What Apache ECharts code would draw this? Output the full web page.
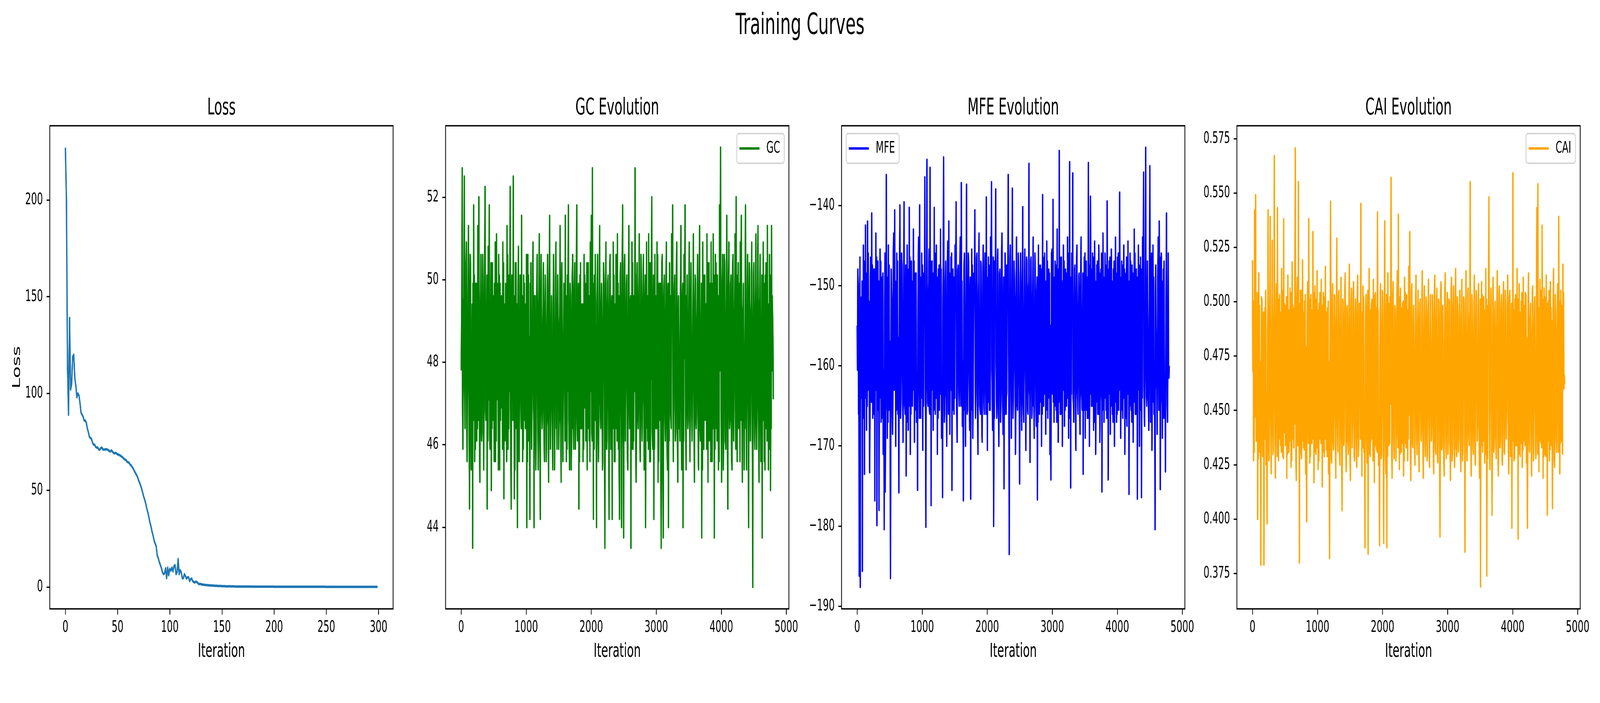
<!DOCTYPE html>
<html>
<head>
<meta charset="utf-8">
<script src="https://cdn.jsdelivr.net/npm/echarts@6/dist/echarts.min.js"></script>
<style>
html,body{margin:0;padding:0;background:#ffffff;overflow:hidden;}
#chart{width:7200px;height:1800px;transform-origin:0 0;}
</style>
</head>
<body>
<div id="chart"></div>
<script>
// ---------------- data ----------------
const suptitle = 'Training Curves';
const panelTitles = ['Loss', 'GC Evolution', 'MFE Evolution', 'CAI Evolution'];
const seriesNames = ['Loss', 'GC', 'MFE', 'CAI'];
const xLabel = 'Iteration';
const lossYLabel = 'Loss';

// loss per iteration (0..299)
const lossValues = [
  227, 200, 115, 89, 139, 102, 105, 119, 120, 108,
  104, 98, 100, 99, 95, 90, 89, 88, 86, 86,
  85, 82, 80, 77.6, 77, 76.5, 74.5, 73.5, 73.5, 72.4,
  72, 72, 71, 71, 71.8, 72, 71, 71, 71, 71.2,
  71, 70.8, 70.2, 70, 70.6, 70, 69.3, 69, 69.3, 69,
  68.5, 68.3, 68.1, 67.7, 67.3, 66.9, 66.3, 65.8, 65.6, 64.8,
  64.4, 64.2, 63.2, 62.8, 62, 61.1, 60, 59, 58, 57,
  55.3, 54, 52.5, 50.8, 48.8, 46.7, 45, 43, 40.5, 38.5,
  36, 33.3, 31.3, 28.6, 26.5, 24, 22.4, 21, 16.3, 14.8,
  12.8, 11.3, 9.7, 7.6, 6.6, 7, 9.7, 4.5, 10, 6,
  9.3, 8.4, 10, 8, 10.7, 11.3, 6.6, 7.6, 14.4, 6.6,
  8.6, 7.6, 4.5, 4.5, 6.6, 5.6, 4.3, 5, 5, 3,
  4, 4.3, 3, 2.5, 2.3, 2.7, 2.5, 1.9, 1.4, 1.6,
  1.4, 1.2, 1.2, 1.1, 1.0, 1.0, 0.9, 0.9, 0.8, 0.8,
  0.7, 0.7, 0.7, 0.6, 0.6, 0.6, 0.5, 0.5, 0.5, 0.5,
  0.4, 0.4, 0.4, 0.4, 0.3, 0.3, 0.3, 0.4, 0.3, 0.3,
  0.3, 0.3, 0.3, 0.2, 0.2, 0.2, 0.2, 0.2, 0.2, 0.2,
  0.2, 0.2, 0.2, 0.2, 0.2, 0.2, 0.2, 0.2, 0.2, 0.2,
  0.15, 0.15, 0.15, 0.15, 0.15, 0.15, 0.15, 0.15, 0.15, 0.15,
  0.15, 0.15, 0.15, 0.15, 0.15, 0.15, 0.15, 0.15, 0.15, 0.15,
  0.1, 0.1, 0.1, 0.1, 0.1, 0.1, 0.1, 0.1, 0.1, 0.1,
  0.1, 0.1, 0.1, 0.1, 0.1, 0.1, 0.1, 0.1, 0.1, 0.1,
  0.1, 0.1, 0.1, 0.1, 0.1, 0.1, 0.1, 0.1, 0.1, 0.1,
  0.1, 0.1, 0.1, 0.1, 0.1, 0.1, 0.1, 0.1, 0.1, 0.1,
  0.1, 0.1, 0.1, 0.1, 0.1, 0.1, 0.1, 0.1, 0.1, 0.1,
  0.05, 0.05, 0.05, 0.05, 0.05, 0.05, 0.05, 0.05, 0.05, 0.05,
  0.05, 0.05, 0.05, 0.05, 0.05, 0.05, 0.05, 0.05, 0.05, 0.05,
  0.05, 0.05, 0.05, 0.05, 0.05, 0.05, 0.05, 0.05, 0.05, 0.05,
  0.05, 0.05, 0.05, 0.05, 0.05, 0.05, 0.05, 0.05, 0.05, 0.05,
  0.05, 0.05, 0.05, 0.05, 0.05, 0.05, 0.05, 0.05, 0.05, 0.05
];

// GC content: spike readings, mid readings and band-edge readings (interleaved in time)
const gcPeaks = [
  47.8, 52.7, 45.9, 52.5, 46.4, 50.9, 47.1, 51.3, 44.45, 50.4, 46.6, 43.5, 51.8, 45.6, 49.9, 46.1, 51.3, 52.0, 45.1, 50.6,
  46.3, 49.6, 45.4, 52.25, 47.3, 44.45, 50.8, 51.8, 45.9, 44.9, 50.4, 46.6, 49.9, 45.6, 51.1, 47.1, 50.6, 45.4, 49.4, 46.9,
  50.9, 44.7, 49.1, 46.1, 51.3, 45.9, 50.1, 52.25, 44.45, 49.6, 52.5, 44.7, 50.4, 46.4, 44.0, 50.8, 46.9, 49.9, 51.55, 45.6,
  50.1, 46.6, 49.4, 44.0, 50.6, 46.1, 44.2, 50.4, 47.3, 50.9, 44.0, 49.6, 46.4, 50.6, 45.4, 51.1, 44.2, 49.9, 46.9, 50.4,
  45.6, 49.1, 46.1, 50.6, 45.1, 51.55, 46.6, 49.6, 45.4, 50.1, 47.1, 50.9, 45.9, 49.4, 46.4, 51.3, 45.1, 50.4, 46.9, 49.9,
  51.55, 45.6, 50.1, 51.8, 45.4, 49.6, 46.1, 50.6, 45.9, 50.4, 46.6, 51.8, 47.1, 44.45, 50.1, 46.4, 49.4, 45.6, 50.6, 46.9,
  49.9, 45.4, 50.4, 46.1, 50.9, 51.55, 52.7, 44.2, 50.1, 46.6, 44.0, 50.6, 45.9, 51.3, 46.4, 49.6, 45.6, 50.4, 43.5, 50.9,
  46.1, 50.1, 44.2, 50.6, 46.9, 44.2, 50.9, 45.6, 49.4, 46.4, 51.1, 45.9, 44.2, 50.4, 44.0, 51.8, 43.75, 50.6, 46.1, 50.1,
  45.4, 51.3, 46.6, 43.5, 50.9, 45.9, 49.6, 52.7, 45.1, 50.4, 46.4, 51.1, 45.6, 50.1, 46.9, 50.6, 45.4, 44.0, 50.9, 46.1,
  51.1, 45.6, 50.4, 52.0, 45.9, 44.2, 50.6, 46.4, 50.9, 45.1, 49.9, 46.6, 43.5, 50.6, 43.75, 50.1, 46.1, 50.9, 45.4, 44.0,
  50.4, 46.9, 51.1, 51.8, 45.6, 50.1, 46.4, 50.9, 45.1, 49.6, 46.1, 51.3, 45.9, 44.0, 50.6, 51.8, 45.4, 50.1, 46.6, 50.9,
  45.6, 50.4, 46.1, 51.1, 45.1, 49.9, 46.9, 50.6, 45.4, 51.3, 46.4, 43.75, 50.9, 45.9, 50.1, 46.6, 51.1, 45.1, 50.4, 46.1,
  50.9, 45.6, 51.1, 43.75, 50.6, 46.4, 50.1, 45.4, 51.8, 53.2, 45.1, 50.6, 46.1, 50.4, 45.9, 51.55, 44.45, 50.9, 46.6, 50.1,
  45.4, 50.6, 46.1, 51.1, 52.0, 45.6, 50.4, 46.4, 50.9, 51.55, 45.1, 49.9, 46.9, 51.8, 45.4, 50.6, 44.0, 50.1, 46.1, 50.9,
  42.55, 50.4, 45.9, 51.1, 46.6, 51.3, 45.1, 50.6, 46.1, 43.75, 50.9, 45.6, 50.1, 46.4, 51.3, 45.4, 50.6, 44.9, 51.3, 49.6
];
const gcBetween = [
  48.6, 46.9, 49.4, 47.3, 49.1, 46.6, 48.9, 47.6, 49.6, 46.4, 48.1, 49.9, 46.9, 48.4, 47.1, 49.4, 46.6, 48.9, 47.8, 46.4,
  49.1, 47.3, 49.9, 46.9, 48.6, 49.6, 47.1, 46.4, 48.9, 49.4, 47.6, 48.1, 46.6, 49.1, 47.3, 48.6, 46.9, 49.9, 47.1, 48.4,
  46.6, 49.4, 47.8, 48.9, 46.4, 49.1, 47.3, 46.9, 49.6, 48.1, 46.6, 48.6, 47.1, 49.4, 48.9, 46.9, 48.4, 47.3, 46.4, 49.1,
  47.6, 48.9, 46.6, 49.4, 47.1, 48.6, 49.9, 46.9, 48.1, 47.3, 49.6, 46.4, 48.9, 47.8, 49.1, 46.6, 49.4, 47.1, 48.6, 46.9,
  49.1, 47.3, 48.9, 46.6, 49.6, 47.1, 48.4, 46.9, 49.4, 47.6, 48.1, 46.4, 49.1, 47.3, 48.9, 46.6, 49.9, 47.1, 48.6, 47.8,
  46.9, 49.4, 47.3, 46.6, 49.1, 47.8, 48.9, 46.4, 49.6, 47.1, 48.6, 46.9, 49.4, 48.1, 47.3, 49.1, 46.6, 48.9, 47.6, 49.4,
  47.1, 48.6, 46.9, 49.4, 47.3, 46.4, 48.1, 49.6, 47.1, 48.9, 49.4, 46.6, 48.4, 47.3, 49.1, 46.9, 48.6, 49.9, 47.8, 46.6,
  49.1, 47.3, 48.9, 46.9, 49.4, 48.6, 46.6, 49.1, 47.1, 48.4, 46.9, 49.6, 48.1, 47.3, 49.4, 46.4, 48.9, 47.6, 49.1, 46.9,
  48.6, 47.1, 49.4, 48.1, 46.6, 49.1, 47.3, 48.9, 46.4, 49.6, 47.1, 48.4, 46.9, 49.4, 47.3, 48.6, 49.1, 46.6, 47.8, 49.4,
  46.9, 49.1, 47.6, 46.4, 49.4, 48.9, 47.1, 48.6, 46.6, 49.1, 47.3, 49.9, 46.9, 48.4, 49.4, 47.1, 48.9, 46.6, 49.6, 47.3,
  48.1, 46.6, 48.9, 47.3, 49.4, 46.9, 48.6, 47.1, 49.1, 46.4, 48.9, 47.6, 49.4, 46.6, 48.1, 47.3, 49.6, 46.9, 48.6, 47.1,
  49.4, 46.9, 48.6, 47.3, 49.1, 46.6, 48.9, 47.1, 49.6, 46.4, 48.4, 49.1, 47.3, 48.9, 46.9, 49.4, 47.6, 48.6, 46.6, 49.1,
  47.3, 48.9, 46.6, 49.4, 47.1, 48.6, 46.9, 49.1, 47.8, 48.4, 46.6, 49.6, 47.3, 48.9, 46.9, 48.1, 49.4, 47.1, 48.6, 46.6,
  49.1, 47.3, 48.9, 46.9, 48.4, 49.4, 47.1, 48.6, 46.6, 48.1, 49.1, 47.3, 46.4, 48.9, 47.6, 49.4, 48.6, 47.1, 49.1, 46.9,
  48.4, 47.3, 49.1, 46.6, 48.9, 47.1, 49.4, 46.9, 48.6, 49.1, 47.3, 48.4, 46.6, 49.6, 47.1, 48.9, 46.9, 48.1, 47.8, 48.6
];
const gcEdges = [
  50.1, 45.9, 49.6, 46.4, 50.4, 45.6, 49.9, 46.1, 50.6, 45.4, 49.4, 46.6, 50.1, 45.9, 49.9, 46.4, 50.4, 45.6, 49.6, 46.1,
  50.6, 45.4, 49.9, 46.6, 50.1, 46.1, 49.4, 45.9, 50.4, 46.4, 49.6, 45.6, 50.9, 46.1, 49.9, 45.4, 50.1, 46.6, 49.6, 45.9,
  50.4, 46.1, 49.9, 45.6, 50.6, 46.4, 49.4, 45.9, 50.1, 46.6, 49.6, 45.4, 50.4, 46.1, 49.9, 45.6, 50.1, 46.4, 49.6, 45.9,
  49.9, 46.4, 50.6, 45.6, 50.1, 46.1, 49.4, 45.9, 50.4, 46.6, 49.6, 45.4, 50.1, 46.1, 49.9, 45.6, 50.6, 46.4, 49.4, 45.9,
  50.1, 45.6, 49.9, 46.4, 50.4, 45.9, 49.6, 46.1, 50.6, 45.4, 49.9, 46.6, 50.1, 45.9, 49.4, 46.4, 50.4, 45.6, 49.9, 46.1,
  49.6, 45.9, 50.4, 46.1, 49.9, 45.4, 50.1, 46.6, 49.6, 45.9, 50.6, 46.1, 49.9, 45.6, 50.4, 46.4, 49.4, 45.9, 50.1, 46.1,
  50.4, 46.4, 49.6, 45.6, 50.1, 46.1, 49.9, 45.9, 50.6, 46.4, 49.4, 45.6, 50.1, 46.6, 49.9, 45.4, 50.4, 46.1, 49.6, 45.9,
  49.9, 46.1, 50.4, 45.9, 49.6, 46.4, 50.1, 45.6, 50.6, 46.1, 49.9, 45.4, 50.1, 46.6, 49.4, 45.9, 50.4, 46.1, 49.9, 45.6,
  50.1, 46.4, 49.6, 45.9, 50.4, 46.1, 49.9, 45.6, 50.1, 46.6, 49.4, 45.9, 50.6, 46.1, 49.9, 45.4, 50.1, 46.4, 49.6, 45.9,
  50.4, 45.6, 49.9, 46.1, 50.1, 45.9, 49.6, 46.4, 50.6, 45.6, 49.9, 46.1, 50.4, 45.4, 49.4, 46.6, 50.1, 45.9, 49.9, 46.1,
  49.6, 46.4, 50.1, 45.6, 49.9, 46.1, 50.4, 45.9, 49.6, 46.6, 50.1, 45.4, 49.9, 46.1, 50.6, 45.9, 49.4, 46.4, 50.1, 45.6,
  50.4, 46.1, 49.9, 45.9, 50.1, 46.4, 49.6, 45.6, 50.6, 46.1, 49.9, 45.4, 50.1, 46.6, 49.4, 45.9, 50.4, 46.1, 49.9, 45.6,
  49.9, 46.4, 50.1, 45.9, 50.4, 46.1, 49.6, 45.6, 50.1, 46.6, 49.9, 45.4, 50.6, 46.1, 49.4, 45.9, 50.1, 46.4, 49.9, 45.6,
  50.4, 46.1, 49.6, 45.9, 50.1, 46.4, 49.9, 45.6, 50.6, 46.1, 49.4, 45.4, 50.1, 46.6, 49.9, 45.9, 50.4, 46.1, 49.6, 45.6,
  50.1, 46.4, 49.9, 45.9, 50.4, 46.1, 49.6, 45.6, 50.1, 46.6, 49.9, 45.4, 50.4, 46.1, 49.4, 45.9, 50.1, 46.4, 49.6, 47.1
];

// MFE
const mfePeaks = [
  -155.0, -150.0, -186.2, -187.6, -151.5, -185.6, -145.0, -173.5, -142.5, -168.0, -142.0, -163.0, -173.3, -146.5, -141.0, -166.5, -148.0, -176.8, -143.5, -179.9,
  -147.0, -178.0, -145.5, -167.0, -149.0, -171.0, -180.4, -175.7, -136.2, -169.0, -145.0, -165.5, -186.5, -148.0, -168.5, -143.5, -140.6, -170.0, -146.0, -166.0,
  -175.8, -140.0, -164.5, -147.5, -169.5, -139.6, -166.0, -173.7, -145.0, -168.0, -140.3, -171.0, -147.0, -165.0, -143.0, -169.5, -148.5, -167.0, -175.5, -144.0,
  -140.0, -166.5, -146.0, -170.5, -148.5, -136.5, -180.1, -134.3, -165.0, -145.5, -135.3, -177.4, -147.0, -168.0, -140.3, -166.0, -145.0, -171.0, -148.0, -165.5,
  -143.0, -169.0, -176.4, -134.0, -166.0, -147.0, -170.0, -144.5, -142.0, -168.5, -146.5, -175.5, -148.0, -166.0, -145.0, -139.6, -169.5, -147.5, -165.0, -144.0,
  -137.2, -167.5, -176.8, -146.0, -170.0, -137.4, -165.5, -147.0, -168.0, -176.6, -145.5, -169.0, -148.5, -140.6, -166.5, -146.0, -171.0, -143.5, -165.0, -147.5,
  -169.5, -145.0, -166.0, -148.0, -139.0, -170.5, -146.5, -165.5, -144.0, -137.1, -168.0, -180.0, -147.0, -138.0, -166.5, -145.5, -170.0, -148.0, -165.0, -143.5,
  -168.5, -175.3, -146.0, -166.0, -147.5, -136.2, -183.5, -145.0, -169.0, -137.9, -166.5, -147.0, -171.0, -144.0, -165.5, -148.5, -174.7, -146.0, -168.0, -140.2,
  -167.0, -145.5, -170.5, -147.0, -166.0, -134.8, -172.0, -146.5, -165.5, -144.0, -169.0, -148.0, -167.5, -176.7, -145.0, -166.0, -147.5, -170.0, -138.7, -165.0,
  -146.0, -168.5, -144.5, -166.5, -148.0, -171.0, -174.2, -145.5, -139.3, -167.0, -147.0, -165.5, -143.0, -169.5, -133.2, -166.0, -146.5, -170.0, -145.0, -167.5,
  -148.0, -165.0, -144.0, -169.0, -134.6, -175.2, -146.0, -136.0, -167.0, -147.5, -170.5, -145.0, -166.0, -148.5, -168.5, -144.0, -165.5, -173.5, -146.5, -169.0,
  -147.0, -166.5, -134.7, -170.0, -138.9, -165.0, -146.0, -168.0, -144.5, -171.0, -147.5, -166.0, -145.0, -169.5, -148.0, -175.7, -143.5, -167.0, -146.0, -165.5,
  -139.5, -174.2, -147.0, -168.5, -145.5, -166.0, -148.0, -170.0, -144.0, -167.0, -146.5, -165.5, -138.4, -169.0, -147.0, -166.5, -145.0, -171.0, -148.5, -167.5,
  -144.5, -176.0, -146.0, -165.5, -147.5, -169.5, -143.0, -166.0, -148.0, -176.6, -145.0, -170.0, -146.5, -176.4, -144.0, -135.9, -167.5, -132.8, -165.0, -147.0,
  -168.0, -135.1, -146.5, -170.5, -145.0, -166.0, -180.4, -147.5, -168.5, -144.0, -142.0, -175.4, -146.0, -169.0, -148.0, -166.5, -173.2, -141.0, -167.0, -161.0
];
const mfeBetween = [
  -160.5, -166.0, -158.0, -152.5, -163.5, -155.0, -161.0, -150.5, -164.0, -156.5, -159.0, -152.0, -165.0, -157.5, -162.0, -151.0, -163.0, -155.5, -160.0, -153.5,
  -164.5, -158.5, -151.5, -162.5, -156.0, -160.5, -153.0, -166.0, -158.0, -150.5, -163.5, -157.0, -161.5, -152.5, -164.0, -155.0, -159.5, -151.0, -162.0, -156.5,
  -158.5, -163.0, -152.0, -160.0, -155.5, -164.5, -150.5, -161.5, -157.0, -153.5, -165.0, -158.0, -151.5, -162.5, -156.0, -160.0, -152.5, -163.5, -155.0, -159.0,
  -161.0, -153.0, -164.0, -157.5, -150.5, -162.0, -156.0, -159.5, -152.0, -165.5, -158.5, -154.0, -161.5, -151.0, -163.0, -157.0, -160.5, -153.5, -164.5, -155.5,
  -158.0, -162.5, -151.5, -160.0, -156.5, -163.5, -152.5, -159.0, -165.0, -154.5, -161.0, -150.5, -162.0, -157.5, -153.0, -164.0, -156.0, -160.5, -151.0, -163.0,
  -155.0, -159.5, -152.0, -165.5, -157.0, -161.5, -153.5, -158.5, -150.5, -162.5, -156.0, -164.0, -151.5, -160.0, -155.5, -163.5, -152.5, -159.0, -166.0, -154.0,
  -161.0, -157.5, -150.5, -162.0, -156.5, -153.0, -164.5, -158.0, -151.5, -160.5, -155.0, -163.0, -152.0, -159.5, -165.0, -154.5, -161.5, -151.0, -162.5, -157.0,
  -153.5, -160.0, -156.0, -164.0, -152.5, -158.5, -161.0, -150.5, -163.5, -155.5, -159.0, -152.0, -165.5, -157.0, -160.5, -153.0, -162.0, -156.5, -151.5, -164.5,
  -158.0, -154.0, -161.5, -157.5, -150.5, -163.0, -155.0, -159.5, -152.5, -165.0, -156.0, -160.0, -151.0, -162.5, -157.5, -153.5, -164.0, -155.5, -160.5, -152.0,
  -163.5, -157.0, -159.0, -151.5, -162.0, -155.0, -160.5, -153.0, -164.5, -156.5, -158.5, -150.5, -163.0, -154.5, -161.0, -152.5, -165.0, -157.5, -159.5, -153.5,
  -160.0, -155.5, -163.5, -152.0, -158.0, -161.5, -150.5, -164.0, -156.0, -159.0, -153.0, -162.5, -155.0, -160.5, -151.5, -163.0, -157.0, -154.0, -161.0, -152.5,
  -165.5, -158.5, -153.5, -160.0, -151.0, -162.0, -156.5, -159.5, -152.5, -163.5, -155.0, -161.0, -150.5, -164.5, -157.0, -158.0, -153.0, -162.5, -156.0, -160.5,
  -152.0, -163.0, -155.5, -159.0, -151.5, -164.0, -157.5, -160.0, -153.5, -162.5, -156.0, -158.5, -150.5, -165.0, -154.0, -161.5, -152.5, -163.5, -157.0, -159.5,
  -154.5, -161.0, -151.0, -162.0, -156.5, -158.0, -153.0, -164.5, -155.5, -160.0, -152.0, -163.0, -157.5, -159.0, -150.5, -162.5, -155.0, -160.5, -153.5, -164.0,
  -156.0, -158.5, -152.5, -163.5, -155.0, -160.0, -151.5, -162.0, -157.0, -159.5, -153.0, -165.0, -156.5, -161.0, -152.0, -163.0, -155.5, -158.0, -160.0, -161.5
];
const mfeEdges = [
  -148.0, -165.5, -146.5, -164.0, -149.5, -166.5, -147.0, -163.5, -148.5, -165.0, -146.0, -167.0, -149.0, -164.5, -147.5, -166.0, -148.0, -163.0, -146.5, -165.5,
  -149.5, -164.0, -147.0, -166.5, -148.5, -163.5, -146.0, -165.0, -149.0, -167.0, -147.5, -164.5, -148.0, -166.0, -146.5, -163.0, -149.5, -165.5, -147.0, -164.0,
  -148.5, -166.5, -146.0, -163.5, -149.0, -165.0, -147.5, -167.0, -148.0, -164.5, -146.5, -166.0, -149.5, -163.0, -147.0, -165.5, -148.5, -164.0, -146.0, -166.5,
  -149.0, -163.5, -147.5, -165.0, -148.0, -167.0, -146.5, -164.5, -149.5, -166.0, -147.0, -163.0, -148.5, -165.5, -146.0, -164.0, -149.0, -166.5, -147.5, -163.5,
  -148.0, -165.0, -146.5, -167.0, -149.5, -164.5, -147.0, -166.0, -148.5, -163.0, -146.0, -165.5, -149.0, -164.0, -147.5, -166.5, -148.0, -163.5, -146.5, -165.0,
  -149.5, -167.0, -147.0, -164.5, -148.5, -166.0, -146.0, -163.0, -149.0, -165.5, -147.5, -164.0, -148.0, -166.5, -146.5, -163.5, -149.5, -165.0, -147.0, -167.0,
  -148.5, -164.5, -146.0, -166.0, -149.0, -163.0, -147.5, -165.5, -148.0, -164.0, -146.5, -166.5, -149.5, -163.5, -147.0, -165.0, -148.5, -167.0, -146.0, -164.5,
  -149.0, -166.0, -147.5, -163.0, -148.0, -165.5, -146.5, -164.0, -149.5, -166.5, -147.0, -163.5, -148.5, -165.0, -146.0, -167.0, -149.0, -164.5, -147.5, -166.0,
  -148.0, -163.0, -146.5, -165.5, -149.5, -164.0, -147.0, -166.5, -148.5, -163.5, -146.0, -165.0, -149.0, -167.0, -147.5, -164.5, -148.0, -166.0, -146.5, -163.0,
  -149.5, -165.5, -147.0, -164.0, -148.5, -166.5, -146.0, -163.5, -149.0, -165.0, -147.5, -167.0, -148.0, -164.5, -146.5, -166.0, -149.5, -163.0, -147.0, -165.5,
  -148.5, -164.0, -146.0, -166.5, -149.0, -163.5, -147.5, -165.0, -148.0, -167.0, -146.5, -164.5, -149.5, -166.0, -147.0, -163.0, -148.5, -165.5, -146.0, -164.0,
  -149.0, -166.5, -147.5, -163.5, -148.0, -165.0, -146.5, -167.0, -149.5, -164.5, -147.0, -166.0, -148.5, -163.0, -146.0, -165.5, -149.0, -164.0, -147.5, -166.5,
  -148.0, -163.5, -146.5, -165.0, -149.5, -167.0, -147.0, -164.5, -148.5, -166.0, -146.0, -163.0, -149.0, -165.5, -147.5, -164.0, -148.0, -166.5, -146.5, -163.5,
  -149.5, -165.0, -147.0, -167.0, -148.5, -164.5, -146.0, -166.0, -149.0, -163.0, -147.5, -165.5, -148.0, -164.0, -146.5, -166.5, -149.5, -163.5, -147.0, -165.0,
  -148.5, -167.0, -146.0, -164.5, -149.0, -166.0, -147.5, -163.0, -148.0, -165.5, -146.5, -164.0, -149.5, -166.5, -147.0, -163.5, -148.5, -165.0, -146.0, -160.0
];

// CAI
const caiPeaks = [
  0.519, 0.427, 0.542, 0.549, 0.462, 0.400, 0.513, 0.431, 0.379, 0.501, 0.436, 0.379, 0.497, 0.425, 0.398, 0.542, 0.428, 0.539, 0.421, 0.528,
  0.432, 0.567, 0.419, 0.508, 0.543, 0.427, 0.503, 0.434, 0.515, 0.429, 0.538, 0.440, 0.498, 0.419, 0.512, 0.431, 0.506, 0.424, 0.518, 0.437,
  0.497, 0.5705, 0.418, 0.511, 0.555, 0.380, 0.505, 0.428, 0.519, 0.433, 0.500, 0.421, 0.399, 0.509, 0.538, 0.426, 0.503, 0.435, 0.532, 0.417,
  0.507, 0.430, 0.514, 0.423, 0.499, 0.437, 0.510, 0.415, 0.504, 0.429, 0.516, 0.432, 0.497, 0.421, 0.382, 0.546, 0.426, 0.508, 0.434, 0.502,
  0.419, 0.529, 0.431, 0.505, 0.425, 0.511, 0.404, 0.500, 0.436, 0.513, 0.422, 0.498, 0.430, 0.517, 0.418, 0.506, 0.433, 0.509, 0.427, 0.501,
  0.424, 0.512, 0.435, 0.497, 0.545, 0.420, 0.507, 0.431, 0.387, 0.503, 0.426, 0.384, 0.515, 0.429, 0.499, 0.437, 0.510, 0.417, 0.504, 0.432,
  0.541, 0.425, 0.388, 0.508, 0.430, 0.500, 0.389, 0.537, 0.421, 0.387, 0.513, 0.434, 0.502, 0.557, 0.419, 0.509, 0.428, 0.497, 0.436, 0.514,
  0.540, 0.423, 0.506, 0.431, 0.499, 0.420, 0.511, 0.435, 0.503, 0.427, 0.516, 0.532, 0.418, 0.508, 0.433, 0.498, 0.425, 0.512, 0.430, 0.505,
  0.422, 0.501, 0.436, 0.514, 0.419, 0.507, 0.429, 0.497, 0.432, 0.510, 0.424, 0.503, 0.437, 0.499, 0.421, 0.512, 0.430, 0.506, 0.426, 0.500,
  0.392, 0.509, 0.433, 0.498, 0.420, 0.513, 0.428, 0.504, 0.435, 0.500, 0.418, 0.511, 0.431, 0.507, 0.424, 0.515, 0.429, 0.498, 0.436, 0.505,
  0.422, 0.510, 0.432, 0.501, 0.385, 0.514, 0.427, 0.506, 0.434, 0.555, 0.420, 0.499, 0.430, 0.512, 0.425, 0.503, 0.437, 0.508, 0.419, 0.369,
  0.509, 0.431, 0.502, 0.426, 0.515, 0.374, 0.498, 0.548, 0.423, 0.506, 0.402, 0.511, 0.433, 0.500, 0.428, 0.514, 0.420, 0.507, 0.435, 0.503,
  0.425, 0.509, 0.430, 0.498, 0.437, 0.512, 0.421, 0.505, 0.432, 0.396, 0.559, 0.427, 0.501, 0.434, 0.515, 0.391, 0.508, 0.429, 0.500, 0.424,
  0.511, 0.436, 0.504, 0.426, 0.396, 0.513, 0.431, 0.499, 0.420, 0.507, 0.433, 0.502, 0.428, 0.543, 0.554, 0.422, 0.510, 0.435, 0.535, 0.419,
  0.506, 0.430, 0.512, 0.402, 0.500, 0.427, 0.509, 0.434, 0.405, 0.515, 0.424, 0.503, 0.431, 0.508, 0.539, 0.421, 0.505, 0.436, 0.517, 0.460
];
const caiBetween = [
  0.468, 0.491, 0.447, 0.476, 0.439, 0.488, 0.455, 0.472, 0.443, 0.494, 0.461, 0.449, 0.484, 0.458, 0.478, 0.441, 0.490, 0.452, 0.474, 0.445,
  0.486, 0.463, 0.448, 0.481, 0.456, 0.492, 0.440, 0.470, 0.459, 0.485, 0.446, 0.477, 0.453, 0.489, 0.442, 0.466, 0.483, 0.450, 0.471, 0.457,
  0.444, 0.480, 0.462, 0.438, 0.487, 0.454, 0.475, 0.448, 0.493, 0.460, 0.442, 0.479, 0.465, 0.451, 0.488, 0.446, 0.473, 0.457, 0.490, 0.441,
  0.469, 0.485, 0.452, 0.476, 0.440, 0.482, 0.458, 0.447, 0.491, 0.464, 0.443, 0.486, 0.455, 0.472, 0.449, 0.494, 0.461, 0.438, 0.478, 0.453,
  0.487, 0.445, 0.470, 0.459, 0.484, 0.441, 0.475, 0.452, 0.490, 0.463, 0.447, 0.481, 0.456, 0.440, 0.486, 0.467, 0.449, 0.479, 0.454, 0.492,
  0.442, 0.473, 0.460, 0.488, 0.446, 0.468, 0.483, 0.451, 0.477, 0.439, 0.489, 0.457, 0.470, 0.444, 0.485, 0.462, 0.448, 0.480, 0.455, 0.474,
  0.491, 0.450, 0.466, 0.443, 0.482, 0.458, 0.476, 0.440, 0.487, 0.463, 0.445, 0.479, 0.453, 0.493, 0.447, 0.471, 0.460, 0.484, 0.441, 0.469,
  0.456, 0.488, 0.444, 0.475, 0.462, 0.439, 0.481, 0.452, 0.490, 0.465, 0.448, 0.478, 0.457, 0.442, 0.486, 0.470, 0.451, 0.483, 0.446, 0.473,
  0.489, 0.459, 0.443, 0.477, 0.454, 0.485, 0.440, 0.468, 0.492, 0.450, 0.474, 0.461, 0.445, 0.482, 0.457, 0.438, 0.487, 0.464, 0.449, 0.479,
  0.453, 0.490, 0.466, 0.442, 0.480, 0.458, 0.472, 0.447, 0.486, 0.461, 0.441, 0.484, 0.455, 0.475, 0.450, 0.491, 0.463, 0.444, 0.478, 0.457,
  0.483, 0.446, 0.469, 0.488, 0.452, 0.476, 0.440, 0.465, 0.489, 0.456, 0.443, 0.481, 0.460, 0.448, 0.487, 0.471, 0.445, 0.477, 0.454, 0.492,
  0.449, 0.474, 0.458, 0.485, 0.441, 0.467, 0.482, 0.451, 0.490, 0.462, 0.446, 0.479, 0.455, 0.439, 0.486, 0.470, 0.447, 0.483, 0.457, 0.473,
  0.488, 0.452, 0.478, 0.443, 0.464, 0.491, 0.448, 0.475, 0.459, 0.440, 0.484, 0.466, 0.450, 0.480, 0.456, 0.493, 0.444, 0.471, 0.461, 0.487,
  0.445, 0.476, 0.458, 0.483, 0.441, 0.469, 0.489, 0.453, 0.474, 0.447, 0.485, 0.460, 0.442, 0.479, 0.455, 0.490, 0.464, 0.449, 0.481, 0.457,
  0.472, 0.446, 0.486, 0.459, 0.440, 0.478, 0.463, 0.491, 0.451, 0.475, 0.444, 0.484, 0.457, 0.468, 0.489, 0.448, 0.473, 0.454, 0.480, 0.466
];
const caiEdges = [
  0.500, 0.431, 0.496, 0.436, 0.504, 0.428, 0.498, 0.434, 0.502, 0.429, 0.495, 0.437, 0.505, 0.432, 0.499, 0.427, 0.503, 0.435, 0.497, 0.430,
  0.503, 0.435, 0.497, 0.429, 0.501, 0.437, 0.495, 0.431, 0.505, 0.428, 0.499, 0.434, 0.502, 0.430, 0.496, 0.436, 0.504, 0.427, 0.498, 0.433,
  0.497, 0.428, 0.502, 0.434, 0.499, 0.430, 0.505, 0.436, 0.495, 0.432, 0.503, 0.427, 0.498, 0.435, 0.501, 0.429, 0.496, 0.437, 0.504, 0.431,
  0.501, 0.433, 0.496, 0.427, 0.504, 0.435, 0.498, 0.431, 0.502, 0.437, 0.495, 0.429, 0.500, 0.434, 0.505, 0.428, 0.497, 0.432, 0.503, 0.436,
  0.498, 0.436, 0.503, 0.430, 0.496, 0.428, 0.501, 0.434, 0.505, 0.431, 0.497, 0.437, 0.502, 0.427, 0.499, 0.433, 0.504, 0.429, 0.495, 0.435,
  0.504, 0.429, 0.499, 0.437, 0.495, 0.433, 0.502, 0.428, 0.498, 0.435, 0.505, 0.430, 0.496, 0.436, 0.501, 0.427, 0.503, 0.434, 0.497, 0.431,
  0.496, 0.434, 0.501, 0.428, 0.505, 0.436, 0.497, 0.432, 0.503, 0.429, 0.499, 0.435, 0.495, 0.431, 0.502, 0.437, 0.498, 0.427, 0.504, 0.433,
  0.502, 0.430, 0.497, 0.435, 0.500, 0.427, 0.504, 0.433, 0.496, 0.437, 0.501, 0.428, 0.505, 0.434, 0.498, 0.431, 0.503, 0.436, 0.495, 0.429,
  0.499, 0.437, 0.504, 0.431, 0.497, 0.434, 0.502, 0.427, 0.500, 0.433, 0.496, 0.436, 0.503, 0.429, 0.505, 0.432, 0.498, 0.428, 0.501, 0.435,
  0.505, 0.432, 0.498, 0.428, 0.503, 0.436, 0.495, 0.430, 0.501, 0.434, 0.504, 0.427, 0.497, 0.437, 0.500, 0.433, 0.502, 0.431, 0.496, 0.429,
  0.497, 0.427, 0.502, 0.435, 0.499, 0.431, 0.504, 0.437, 0.496, 0.429, 0.503, 0.433, 0.500, 0.428, 0.505, 0.436, 0.498, 0.430, 0.501, 0.434,
  0.503, 0.436, 0.496, 0.430, 0.501, 0.428, 0.505, 0.434, 0.498, 0.437, 0.502, 0.431, 0.495, 0.435, 0.499, 0.429, 0.504, 0.433, 0.497, 0.427,
  0.500, 0.431, 0.505, 0.437, 0.497, 0.433, 0.502, 0.429, 0.499, 0.436, 0.496, 0.428, 0.503, 0.434, 0.501, 0.430, 0.495, 0.435, 0.504, 0.432,
  0.498, 0.434, 0.503, 0.428, 0.500, 0.437, 0.496, 0.431, 0.504, 0.427, 0.499, 0.435, 0.502, 0.430, 0.497, 0.436, 0.505, 0.433, 0.501, 0.429,
  0.502, 0.429, 0.499, 0.436, 0.505, 0.432, 0.497, 0.434, 0.501, 0.428, 0.503, 0.437, 0.496, 0.431, 0.500, 0.435, 0.498, 0.430, 0.504, 0.462
];

const lastIteration = 4799;

// tick labels
const lossXTicks = [0, 50, 100, 150, 200, 250, 300];
const lossYTicks = [0, 50, 100, 150, 200];
const iterTicks = [0, 1000, 2000, 3000, 4000, 5000];
const gcYTicks = [44, 46, 48, 50, 52];
const mfeYTicks = [-190, -180, -170, -160, -150, -140];
const caiYTicks = [0.375, 0.400, 0.425, 0.450, 0.475, 0.500, 0.525, 0.550, 0.575];

// ---------------- layout / style ----------------
const FONT = 'DejaVu Sans';
const PT = 300 / 72;
const TICK_FS = 10 * PT, LABEL_FS = 12 * PT, TITLE_FS = 14 * PT, SUP_FS = 18 * PT;
const LINE_W = 1.5 * PT, SPINE_W = 0.8 * PT, TICK_LEN = 3.5 * PT;
const colors = ['#1f77b4', '#008000', '#0000ff', '#ffa500'];
const gridLefts = [224, 2005, 3787, 5566];
const GRID_TOP = 322, GRID_W = 1545, GRID_H = 1237;
const MID = 0.346;

function weave(a, b, c) {
  const out = [];
  a.forEach((v, i) => { out.push(v); out.push(b[i]); out.push(c[i]); });
  return out;
}
const gcValues = weave(gcPeaks, gcBetween, gcEdges);
const mfeValues = weave(mfePeaks, mfeBetween, mfeEdges);
const caiValues = weave(caiPeaks, caiBetween, caiEdges);

const toPairs = vals => vals.map((v, i) => [Math.round(i * lastIteration / (vals.length - 1)), v]);
const lossData = lossValues.map((v, i) => [i, v]);
const datasets = [lossData, toPairs(gcValues), toPairs(mfeValues), toPairs(caiValues)];

const minusFmt = v => String(v).replace('-', '\u2212');

function axis(gridIndex, min, max, ticks, fmt, isX) {
  return {
    type: 'value', gridIndex, min, max, scale: true,
    axisLine: { show: false, onZero: false },
    splitLine: { show: false },
    axisTick: { show: true, inside: false, length: TICK_LEN, customValues: ticks,
      lineStyle: { color: '#000', width: SPINE_W } },
    axisLabel: { show: true, customValues: ticks, margin: isX ? 27 : 31,
      fontFamily: FONT, fontSize: TICK_FS, color: '#000', lineHeight: 42,
      formatter: fmt, showMinLabel: true, showMaxLabel: true, hideOverlap: false }
  };
}

const xAxes = [
  axis(0, -14.95, 313.95, lossXTicks, minusFmt, true),
  axis(1, -239.95, 5038.95, iterTicks, minusFmt, true),
  axis(2, -239.95, 5038.95, iterTicks, minusFmt, true),
  axis(3, -239.95, 5038.95, iterTicks, minusFmt, true)
];
const yAxes = [
  axis(0, -11.35, 238.35, lossYTicks, minusFmt, false),
  axis(1, 42.02, 53.73, gcYTicks, minusFmt, false),
  axis(2, -190.34, -130.06, mfeYTicks, minusFmt, false),
  axis(3, 0.3587, 0.5809, caiYTicks, v => Number(v).toFixed(3), false)
];

const grids = gridLefts.map(l => ({
  left: l, top: GRID_TOP, width: GRID_W, height: GRID_H,
  show: true, borderColor: '#000', borderWidth: SPINE_W, backgroundColor: 'transparent',
  containLabel: false
}));

const series = datasets.map((d, i) => ({
  name: seriesNames[i], type: 'line', xAxisIndex: i, yAxisIndex: i,
  data: d, symbol: 'none', showSymbol: false, smooth: false,
  animation: false, clip: true,
  lineStyle: { color: colors[i], width: LINE_W, join: 'round', cap: 'butt' },
  itemStyle: { color: colors[i] },
  emphasis: { disabled: true }
}));

function legend(name, pos) {
  return Object.assign({
    data: [name], top: 342, orient: 'horizontal', icon: 'rect',
    itemWidth: 90, itemHeight: LINE_W, itemGap: 10,
    backgroundColor: 'rgba(255,255,255,0.8)', borderColor: '#d6d6d6',
    borderWidth: 4, borderRadius: 8, padding: [17, 19, 17, 12],
    selectedMode: false,
    textStyle: { fontFamily: FONT, fontSize: TICK_FS, color: '#000', lineHeight: 42, padding: [0, 0, 0, 26] }
  }, pos);
}

const legends = [
  legend('GC', { right: 7200 - 3529 }),
  legend('MFE', { left: 3808 }),
  legend('CAI', { right: 7200 - 7089 })
];

function txt(text, x, y, fs, rot) {
  return {
    type: 'text', x, y, rotation: rot || 0, silent: true, z: 100,
    style: { text, x: 0, y: 0, font: fs + 'px "' + FONT + '"', fontSize: fs, fontFamily: FONT,
      fill: '#000', textAlign: 'center', textVerticalAlign: 'middle', verticalAlign: 'middle' }
  };
}

const graphics = [txt(suptitle, 3600, 93.3 - MID * SUP_FS, SUP_FS)];
gridLefts.forEach((l, i) => {
  const cx = l + GRID_W / 2;
  graphics.push(txt(panelTitles[i], cx, 297.7 - MID * TITLE_FS, TITLE_FS));
  graphics.push(txt(xLabel, cx, 1686 - MID * LABEL_FS, LABEL_FS));
});
graphics.push(txt(lossYLabel, 94 - MID * LABEL_FS, GRID_TOP + GRID_H / 2, LABEL_FS, Math.PI / 2));

// fit the 7200x1800 drawing into the actual viewport if it differs
const el = document.getElementById('chart');
const vw = document.documentElement.clientWidth || window.innerWidth;
const vh = document.documentElement.clientHeight || window.innerHeight;
if (Math.abs(vw - 7200) > 2 || Math.abs(vh - 1800) > 2) {
  el.style.transform = 'scale(' + (vw / 7200) + ',' + (vh / 1800) + ')';
}

const chart = echarts.init(el, null, { renderer: 'canvas', width: 7200, height: 1800 });
chart.setOption({
  animation: false,
  backgroundColor: '#ffffff',
  textStyle: { fontFamily: FONT },
  grid: grids,
  xAxis: xAxes,
  yAxis: yAxes,
  legend: legends,
  series: series,
  graphic: graphics
});
</script>
</body>
</html>
